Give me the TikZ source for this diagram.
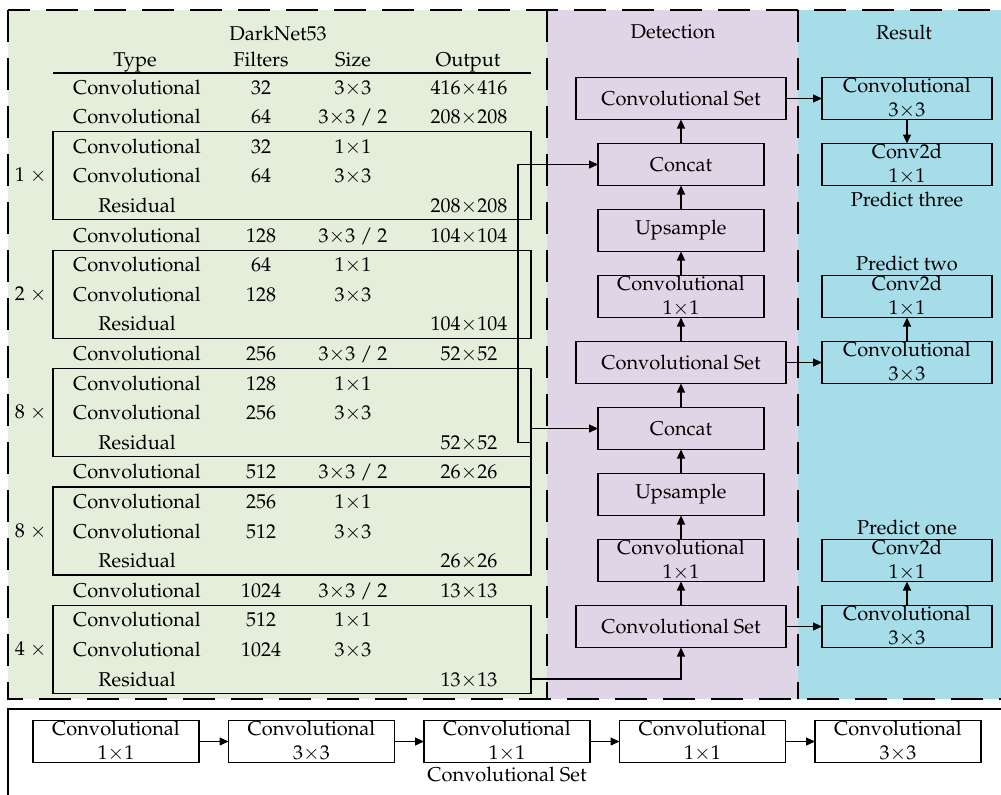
\documentclass[tikz,border=0pt]{standalone}
\usepackage[T1]{fontenc}
\usepackage{mathpazo}
\usetikzlibrary{arrows.meta, positioning}

\definecolor{netgreen}{RGB}{229,238,219}
\definecolor{detpurple}{RGB}{224,213,231}
\definecolor{rescyan}{RGB}{166,221,233}
\newcommand{\timesign}{\ensuremath{{\times}}}

\begin{document}
\begin{tikzpicture}[
    x=0.5pt, y=0.5pt,
    node distance=12pt,
    font=\fontsize{10}{12}\selectfont,
    panel/.style={draw=black, line width=1pt, dash pattern=on 16pt off 8pt},
    cell/.style={inner sep=0pt, anchor=base},
    resblock/.style={rectangle, draw, line width=0.6pt, minimum width=239pt, minimum height=44pt, inner sep=0pt, outer sep=0pt},
    detbox/.style={rectangle, draw, line width=0.6pt, fill=detpurple, minimum width=83pt, minimum height=21pt, inner sep=0pt, outer sep=0pt, align=center},
    setbox/.style={detbox, minimum width=105pt},
    resbox/.style={detbox, fill=rescyan, minimum width=85pt},
    chainbox/.style={detbox, fill=white},
    arrow/.style={-{Triangle[length=4.5pt,width=4pt]}, line width=0.6pt}
]
    \useasboundingbox (0,0) rectangle (1001,-794);

    % background panels
    \fill[netgreen] (8,-10) rectangle (547,-699);
    \fill[detpurple] (547,-10) rectangle (798,-699);
    \fill[rescyan] (798,-10) rectangle (1010,-699);
    \draw[panel] (8,-10) rectangle (1010,-699);
    \draw[panel] (547,-10) -- (547,-699);
    \draw[panel] (798,-10) -- (798,-699);
    \draw[line width=0.6pt, fill=white] (8,-709) rectangle (1010,-800);

    % DarkNet53 table
    \node[cell] (nettitle) at (278,-40) {DarkNet53};
    \node[cell] (hdtype) at (135,-66) {Type};
    \node[cell] (hdfilt) at (261,-66) {Filters};
    \node[cell] (hdsize) at (353,-66) {Size};
    \node[cell] (hdout) at (468,-66) {Output};
    \draw[line width=0.6pt] (53,-73) -- (531,-73);

    \foreach \t/\f/\s/\o [count=\i] in {
        Convolutional/32/3\timesign3/416\timesign416,
        Convolutional/64/{3\timesign3 / 2}/208\timesign208,
        Convolutional/32/1\timesign1/{},
        Convolutional/64/3\timesign3/{},
        Residual/{}/{}/208\timesign208,
        Convolutional/128/{3\timesign3 / 2}/104\timesign104,
        Convolutional/64/1\timesign1/{},
        Convolutional/128/3\timesign3/{},
        Residual/{}/{}/104\timesign104,
        Convolutional/256/{3\timesign3 / 2}/52\timesign52,
        Convolutional/128/1\timesign1/{},
        Convolutional/256/3\timesign3/{},
        Residual/{}/{}/52\timesign52,
        Convolutional/512/{3\timesign3 / 2}/26\timesign26,
        Convolutional/256/1\timesign1/{},
        Convolutional/512/3\timesign3/{},
        Residual/{}/{}/26\timesign26,
        Convolutional/1024/{3\timesign3 / 2}/13\timesign13,
        Convolutional/512/1\timesign1/{},
        Convolutional/1024/3\timesign3/{},
        Residual/{}/{}/13\timesign13}
    {
        \pgfmathsetmacro\rowy{-(94+(\i-1)*29.6)}
        \node[cell] (type\i) at (137,\rowy) {\t};
        \node[cell] (filt\i) at (261,\rowy) {\f};
        \node[cell] (size\i) at (353,\rowy) {\s};
        \node[cell] (out\i) at (469,\rowy) {\o};
    }

    \foreach \k/\m in {1/1, 2/2, 3/8, 4/8, 5/4} {
        \pgfmathsetmacro\blky{-(87+(4*\k-1)*29.6)}
        \node[resblock] (blk\k) at (292,\blky) {};
        \node[inner sep=0pt, left=3pt of blk\k] (rep\k) {\m~\timesign};
    }

    % Detection column
    \node (dettitle) at (673,-32) {Detection};
    \node[setbox] (set3) at (681,-626.5) {Convolutional Set};
    \node[detbox, above=of set3] (cbl2) {Convolutional\\1\timesign1};
    \node[detbox, above=of cbl2] (up2) {Upsample};
    \node[detbox, above=of up2] (cat2) {Concat};
    \node[setbox, above=of cat2] (set2) {Convolutional Set};
    \node[detbox, above=of set2] (cbl1) {Convolutional\\1\timesign1};
    \node[detbox, above=of cbl1] (up1) {Upsample};
    \node[detbox, above=of up1] (cat1) {Concat};
    \node[setbox, above=of cat1] (set1) {Convolutional Set};

    \draw[arrow] (set3) -- (cbl2);
    \draw[arrow] (cbl2) -- (up2);
    \draw[arrow] (up2) -- (cat2);
    \draw[arrow] (cat2) -- (set2);
    \draw[arrow] (set2) -- (cbl1);
    \draw[arrow] (cbl1) -- (up1);
    \draw[arrow] (up1) -- (cat1);
    \draw[arrow] (cat1) -- (set1);

    % Result column
    \node (restitle) at (904,-32) {Result};
    \node[resbox, right=18pt of set1] (pred3a) {Convolutional\\3\timesign3};
    \node[resbox, below=of pred3a] (pred3b) {Conv2d\\1\timesign1};
    \node[inner sep=0pt, below=3pt of pred3b] (lab3) {Predict three};
    \node[resbox, right=18pt of set2] (pred2a) {Convolutional\\3\timesign3};
    \node[resbox, above=of pred2a] (pred2b) {Conv2d\\1\timesign1};
    \node[inner sep=0pt, above=2pt of pred2b] (lab2) {Predict two};
    \node[resbox, right=18pt of set3] (pred1a) {Convolutional\\3\timesign3};
    \node[resbox, above=of pred1a] (pred1b) {Conv2d\\1\timesign1};
    \node[inner sep=0pt, above=2pt of pred1b] (lab1) {Predict one};

    \draw[arrow] (set1) -- (pred3a);
    \draw[arrow] (pred3a) -- (pred3b);
    \draw[arrow] (set2) -- (pred2a);
    \draw[arrow] (pred2a) -- (pred2b);
    \draw[arrow] (set3) -- (pred1a);
    \draw[arrow] (pred1a) -- (pred1b);

    % backbone to detection
    \draw[arrow] (blk3.east |- type13) -- ++(-13,0) |- (cat1.west);
    \draw[arrow] (blk4.north east) |- (cat2.west);
    \draw[arrow] (blk5.east |- type21) -| (set3.south);

    % Convolutional Set chain
    \node[chainbox] (cs1) at (116,-741.5) {Convolutional\\1\timesign1};
    \node[chainbox, right=14.75pt of cs1] (cs2) {Convolutional\\3\timesign3};
    \node[chainbox, right=14.75pt of cs2] (cs3) {Convolutional\\1\timesign1};
    \node[chainbox, right=14.75pt of cs3] (cs4) {Convolutional\\1\timesign1};
    \node[chainbox, right=14.75pt of cs4] (cs5) {Convolutional\\3\timesign3};
    \node[inner sep=0pt, below=2pt of cs3] (cslabel) {Convolutional Set};
    \foreach \a/\b in {1/2, 2/3, 3/4, 4/5}
        \draw[arrow] (cs\a) -- (cs\b);
\end{tikzpicture}
\end{document}
